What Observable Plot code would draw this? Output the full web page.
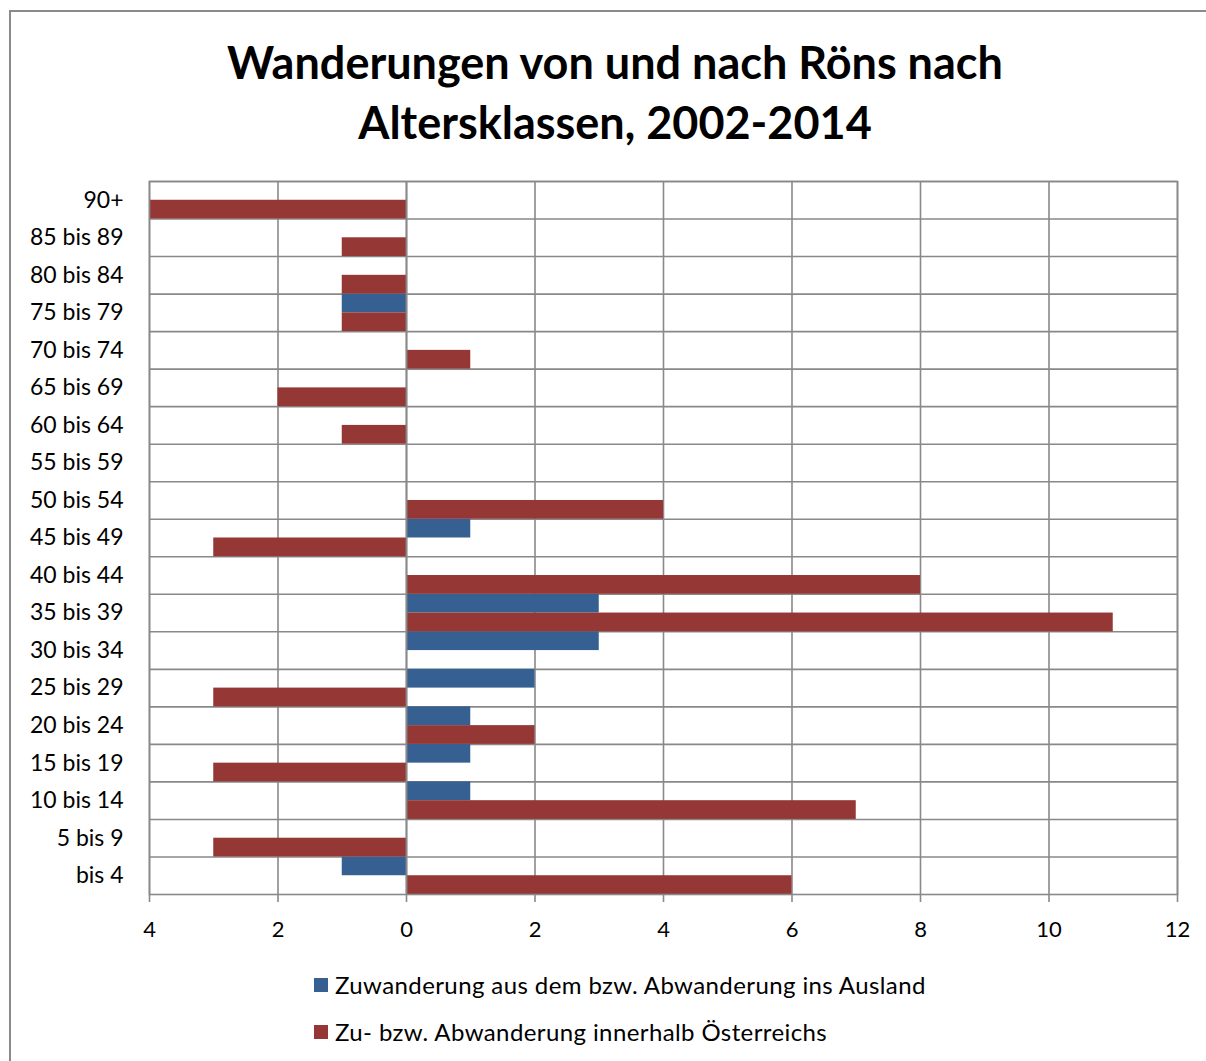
<!DOCTYPE html>
<html>
<head>
<meta charset="utf-8">
<script src="https://cdn.jsdelivr.net/npm/d3@7"></script>
<script src="https://cdn.jsdelivr.net/npm/@observablehq/plot@0.6"></script>
<style>
  html, body { margin: 0; padding: 0; background: #fff; }
  #wrap { position: relative; width: 1206px; height: 1061px; overflow: hidden; font-family: Lato, "Open Sans", sans-serif; color: #000; background: #fff; }
  #frame { position: absolute; left: 9px; top: 10px; width: 1300px; height: 1200px; border: 2px solid #8a8a8a; box-sizing: border-box; z-index: 5; pointer-events: none; }
  #title { position: absolute; left: 0; top: 32px; width: 1230px; text-align: center; font-weight: bold; font-size: 45px; line-height: 60px; }
  #chart { position: absolute; left: 0; top: 160px; }
  .leg { position: absolute; left: 314px; font-size: 24px; letter-spacing: 0.4px; line-height: 26px; white-space: nowrap; }
  .leg .sw { position: absolute; left: 0; top: 6px; width: 14px; height: 14px; }
  .leg .tx { position: absolute; left: 21px; top: 0; }
</style>
</head>
<body>
<div id="wrap">
  <div id="frame"></div>
  <div id="title">Wanderungen von und nach Röns nach<br>Altersklassen, 2002-2014</div>
  <div id="chart"></div>
  <div class="leg" id="leg1" style="top:972px"><span class="sw" style="background:#376092"></span><span class="tx">Zuwanderung aus dem bzw. Abwanderung ins Ausland</span></div>
  <div class="leg" id="leg2" style="top:1019px"><span class="sw" style="background:#953735"></span><span class="tx">Zu- bzw. Abwanderung innerhalb Österreichs</span></div>
</div>
<script>
const categories = ["bis 4","5 bis 9","10 bis 14","15 bis 19","20 bis 24","25 bis 29","30 bis 34","35 bis 39","40 bis 44","45 bis 49","50 bis 54","55 bis 59","60 bis 64","65 bis 69","70 bis 74","75 bis 79","80 bis 84","85 bis 89","90+"];
const ausland    = [-1, 0, 1, 1, 1, 2, 3, 3, 0, 1, 0, 0, 0, 0, 0, -1, 0, 0, 0];
const innerhalb  = [ 6,-3, 7,-3, 2,-3, 0,11, 8,-3, 4, 0,-1,-2, 1, -1,-1,-1,-4];
const xTicks = [-4, -2, 0, 2, 4, 6, 8, 10, 12];
const seriesNames = ["Zuwanderung aus dem bzw. Abwanderung ins Ausland", "Zu- bzw. Abwanderung innerhalb Österreichs"];
const colors = ["#376092", "#953735"];

const W = 1206, H = 800, mt = 21, mb = 66, ml = 149, mr = 29;
const bw = (H - mt - mb) / categories.length;
const grid = "#898989";

const dataA = categories.map((c, i) => ({cat: c, v: ausland[i]}));
const dataI = categories.map((c, i) => ({cat: c, v: innerhalb[i]}));
const yDomain = categories.slice().reverse();

const chart = Plot.plot({
  width: W, height: H,
  marginTop: mt, marginBottom: mb, marginLeft: ml, marginRight: mr,
  style: {fontFamily: "Lato, 'Open Sans', sans-serif", background: "transparent"},
  x: {domain: [-4, 12]},
  y: {domain: yDomain, padding: 0, round: false},
  marks: [
    Plot.ruleX(xTicks, {stroke: grid, strokeWidth: 1.6}),
    Plot.ruleY(categories, {y: d => d, dy: -bw / 2, stroke: grid, strokeWidth: 1.6}),
    Plot.barX(dataA, {y: "cat", x1: 0, x2: "v", fill: colors[0], insetBottom: bw / 2}),
    Plot.barX(dataI, {y: "cat", x1: 0, x2: "v", fill: colors[1], insetTop: bw / 2}),
    Plot.ruleX([0], {stroke: grid, strokeWidth: 1.8}),
    Plot.frame({stroke: grid, strokeWidth: 1.6}),
    Plot.axisX({ticks: xTicks, tickSize: 8, tickPadding: 19, tickFormat: d => String(Math.abs(d)), stroke: grid, strokeWidth: 1.6, fill: "#000", fontSize: 22, label: null}),
    Plot.axisY({tickSize: 0, tickPadding: 26, fill: "#000", fontSize: 23, label: null})
  ]
});
document.getElementById("chart").appendChild(chart);
</script>
</body>
</html>
